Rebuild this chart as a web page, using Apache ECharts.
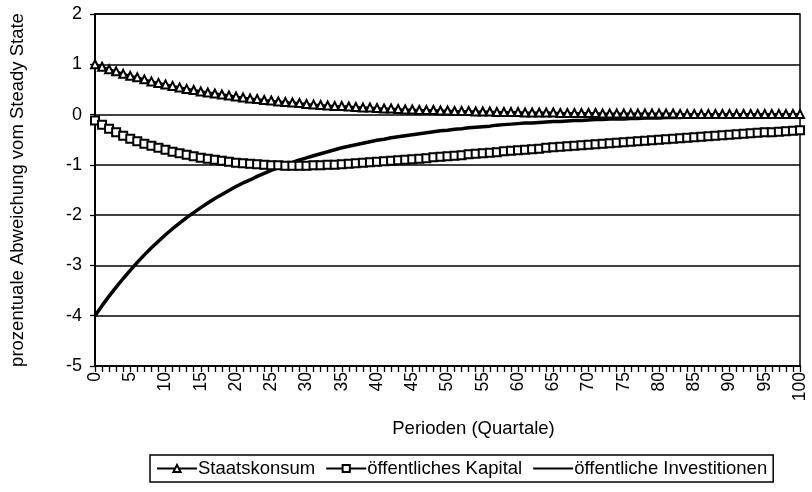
<!DOCTYPE html>
<html><head><meta charset="utf-8">
<script src="https://cdn.jsdelivr.net/npm/echarts@6/dist/echarts.min.js"></script>
<style>html,body{margin:0;padding:0;background:#fff}#c{width:812px;height:492px}</style>
</head><body><div id="c"></div>
<script>
const categories = [];
for (let i = 0; i <= 100; i++) categories.push(String(i));

const staatskonsum = [1.00,0.95,0.90,0.86,0.81,0.77,0.74,0.70,0.66,0.63,0.60,0.57,0.54,0.51,0.49,0.46,0.44,0.42,0.40,0.38,0.36,0.34,0.32,0.31,0.29,0.28,0.26,0.25,0.24,0.23,0.21,0.20,0.19,0.18,0.17,0.17,0.16,0.15,0.14,0.14,0.13,0.12,0.12,0.11,0.10,0.10,0.09,0.09,0.09,0.08,0.08,0.07,0.07,0.07,0.06,0.06,0.06,0.05,0.05,0.05,0.05,0.04,0.04,0.04,0.04,0.04,0.03,0.03,0.03,0.03,0.03,0.03,0.02,0.02,0.02,0.02,0.02,0.02,0.02,0.02,0.02,0.02,0.02,0.01,0.01,0.01,0.01,0.01,0.01,0.01,0.01,0.01,0.01,0.01,0.01,0.01,0.01,0.01,0.01,0.01,0.01];

const kapital = [-0.12,-0.20,-0.28,-0.35,-0.42,-0.48,-0.53,-0.58,-0.62,-0.66,-0.70,-0.74,-0.77,-0.80,-0.83,-0.86,-0.88,-0.90,-0.92,-0.94,-0.96,-0.97,-0.98,-0.99,-1.00,-1.01,-1.01,-1.02,-1.02,-1.02,-1.02,-1.01,-1.01,-1.00,-1.00,-0.99,-0.98,-0.97,-0.96,-0.95,-0.94,-0.93,-0.92,-0.91,-0.90,-0.89,-0.88,-0.87,-0.85,-0.84,-0.83,-0.82,-0.81,-0.79,-0.78,-0.77,-0.76,-0.75,-0.73,-0.72,-0.71,-0.70,-0.69,-0.68,-0.66,-0.65,-0.64,-0.63,-0.62,-0.61,-0.60,-0.59,-0.58,-0.57,-0.56,-0.55,-0.54,-0.53,-0.52,-0.51,-0.50,-0.49,-0.48,-0.47,-0.46,-0.45,-0.44,-0.43,-0.42,-0.41,-0.40,-0.39,-0.38,-0.37,-0.36,-0.35,-0.35,-0.34,-0.33,-0.32,-0.31];

const investitionen = [-4.00,-3.80,-3.61,-3.43,-3.26,-3.10,-2.94,-2.79,-2.65,-2.52,-2.39,-2.27,-2.16,-2.05,-1.95,-1.85,-1.76,-1.67,-1.59,-1.51,-1.43,-1.36,-1.30,-1.23,-1.17,-1.11,-1.05,-1.00,-0.95,-0.90,-0.86,-0.82,-0.78,-0.74,-0.70,-0.66,-0.63,-0.60,-0.57,-0.54,-0.51,-0.49,-0.46,-0.44,-0.42,-0.40,-0.38,-0.36,-0.34,-0.32,-0.31,-0.29,-0.28,-0.26,-0.25,-0.24,-0.23,-0.21,-0.20,-0.19,-0.18,-0.17,-0.17,-0.16,-0.15,-0.14,-0.14,-0.13,-0.12,-0.12,-0.11,-0.10,-0.10,-0.09,-0.09,-0.09,-0.08,-0.08,-0.07,-0.07,-0.07,-0.06,-0.06,-0.06,-0.05,-0.05,-0.05,-0.05,-0.04,-0.04,-0.04,-0.04,-0.04,-0.03,-0.03,-0.03,-0.03,-0.03,-0.03,-0.03,-0.02];

const seriesNames = ['Staatskonsum', 'öffentliches Kapital', 'öffentliche Investitionen'];
const yTitle = 'prozentuale Abweichung vom Steady State';
const xTitle = 'Perioden (Quartale)';

const font = 'Liberation Sans, Arial, sans-serif';
const chart = echarts.init(document.getElementById('c'), null, {renderer: 'canvas'});
chart.setOption({
  animation: false,
  backgroundColor: '#fff',
  grid: {left: 90, right: 12, top: 14, bottom: 126, show: true, borderColor: '#000', borderWidth: 1.5},
  xAxis: {
    type: 'category', data: categories, boundaryGap: false,
    name: xTitle, nameLocation: 'middle', nameGap: 53,
    nameTextStyle: {fontFamily: font, fontSize: 18.5, color: '#000', padding: [0, 0, 0, 52]},
    axisLine: {onZero: false, lineStyle: {color: '#000', width: 2}},
    axisTick: {show: true, interval: 0, length: 6, lineStyle: {color: '#000', width: 1.3}},
    axisLabel: {interval: 4, rotate: 90, fontFamily: font, fontSize: 17.5, color: '#000', margin: 6},
    splitLine: {show: false}
  },
  yAxis: {
    type: 'value', min: -5, max: 2, interval: 1,
    name: yTitle, nameLocation: 'middle', nameGap: 68, nameRotate: 90,
    nameTextStyle: {fontFamily: font, fontSize: 18.5, color: '#000'},
    axisLine: {show: true, lineStyle: {color: '#000', width: 2}},
    axisTick: {show: true, length: 5, lineStyle: {color: '#000', width: 1.3}},
    axisLabel: {fontFamily: font, fontSize: 18, color: '#000', margin: 13},
    splitLine: {show: true, lineStyle: {color: '#000', width: 1.6}}
  },
  legend: {
    bottom: 10, left: 150,
    data: [
      {name: seriesNames[0]},
      {name: seriesNames[1]},
      {name: seriesNames[2], itemStyle: {opacity: 0}}
    ],
    borderColor: '#000', borderWidth: 1.5, borderRadius: 0,
    padding: [4, 6, 4, 6], itemGap: 10, itemWidth: 40, itemHeight: 9,
    textStyle: {fontFamily: font, fontSize: 18.5, color: '#000', padding: [0, 0, 0, -4]}
  },
  series: [
    {name: seriesNames[0], type: 'line', data: staatskonsum, symbol: 'triangle', symbolSize: 8,
     showAllSymbol: true,
     lineStyle: {color: '#000', width: 2.2}, itemStyle: {color: '#fff', borderColor: '#000', borderWidth: 2}, z: 3},
    {name: seriesNames[1], type: 'line', data: kapital, symbol: 'rect', symbolSize: 8,
     showAllSymbol: true,
     lineStyle: {color: '#000', width: 2.2}, itemStyle: {color: '#fff', borderColor: '#000', borderWidth: 2}, z: 3},
    {name: seriesNames[2], type: 'line', data: investitionen, symbol: 'none', smooth: false,
     lineStyle: {color: '#000', width: 3.5}, itemStyle: {color: '#000'}, z: 2}
  ]
});
</script></body></html>
